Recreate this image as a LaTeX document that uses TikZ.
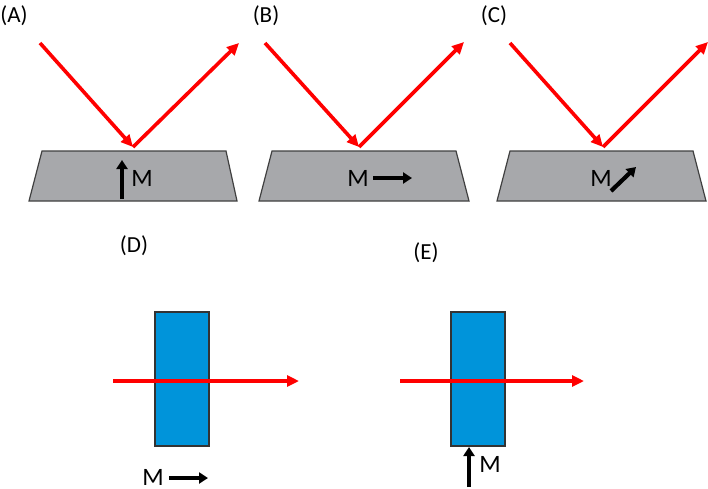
\documentclass[tikz,border=0pt]{standalone}
\usepackage{fontspec}
\setmainfont{Carlito}
\usetikzlibrary{arrows.meta}
\definecolor{plate}{HTML}{A7A8AB}
\definecolor{plateedge}{HTML}{404040}
\definecolor{slab}{HTML}{0094DA}
\tikzset{
  ray/.style={draw=red, line width=3.6pt, -{Triangle[length=12pt,width=11pt]}},
  magn/.style={draw=black, line width=4.2pt, -{Triangle[length=9pt,width=11pt]}},
  platebox/.style={fill=plate, draw=plateedge, line width=1.2pt},
  slabbox/.style={fill=slab, draw=black!80, line width=1.2pt},
  lab/.style={inner sep=0pt, font=\fontsize{23}{25}\selectfont},
  mlab/.style={inner sep=0pt, font=\fontsize{25}{27}\selectfont}
}
\begin{document}
\begin{tikzpicture}[x=1pt,y=-1pt]
\useasboundingbox (0,0) rectangle (708,488);
% panel labels
\node[lab] (la) at (14,16) {(A)};
\node[lab] (lb) at (266,16) {(B)};
\node[lab] (lc) at (494,16) {(C)};
\node[lab] (ld) at (134,246) {(D)};
\node[lab] (le) at (426,253) {(E)};
% plates
\draw[platebox] (42,151) -- (226,151) -- (237,201) -- (29,201) -- cycle;
\draw[platebox] (272,151) -- (456,151) -- (469,201) -- (259,201) -- cycle;
\draw[platebox] (510,151) -- (693,151) -- (706,201) -- (497,201) -- cycle;
% rays A
\coordinate (a1) at (40,43);
\coordinate (a2) at (133,147);
\coordinate (a3) at (239,43);
\draw[ray] (a1) -- (a2);
\draw[ray] (a2) -- (a3);
% rays B
\coordinate (b1) at (265,43);
\coordinate (b2) at (359,147);
\coordinate (b3) at (464,42);
\draw[ray] (b1) -- (b2);
\draw[ray] (b2) -- (b3);
% rays C
\coordinate (c1) at (510,43);
\coordinate (c2) at (603,147);
\coordinate (c3) at (708,42);
\draw[ray] (c1) -- (c2);
\draw[ray] (c2) -- (c3);
% magnetisation A
\coordinate (ma1) at (122,199);
\coordinate (ma2) at (122,160);
\draw[magn] (ma1) -- (ma2);
\node[mlab] (mA) at (142,178) {M};
% magnetisation B
\node[mlab] (mB) at (358,178) {M};
\coordinate (mb1) at (373,178);
\coordinate (mb2) at (412,178);
\draw[magn] (mb1) -- (mb2);
% magnetisation C
\node[mlab] (mC) at (601,178) {M};
\coordinate (mc1) at (611,191);
\coordinate (mc2) at (636,167);
\draw[magn] (mc1) -- (mc2);
% slabs
\draw[slabbox] (155,312) rectangle (209,446);
\draw[slabbox] (451,312) rectangle (505,446);
\coordinate (d1) at (113,381);
\coordinate (d2) at (299,381);
\draw[ray] (d1) -- (d2);
\coordinate (e1) at (400,381);
\coordinate (e2) at (584,381);
\draw[ray] (e1) -- (e2);
% magnetisation D
\node[mlab] (mD) at (153,477) {M};
\coordinate (md1) at (169,478);
\coordinate (md2) at (208,478);
\draw[magn] (md1) -- (md2);
% magnetisation E
\coordinate (me1) at (469,487);
\coordinate (me2) at (469,447);
\draw[magn] (me1) -- (me2);
\node[mlab] (mE) at (490,464) {M};
\end{tikzpicture}
\end{document}
